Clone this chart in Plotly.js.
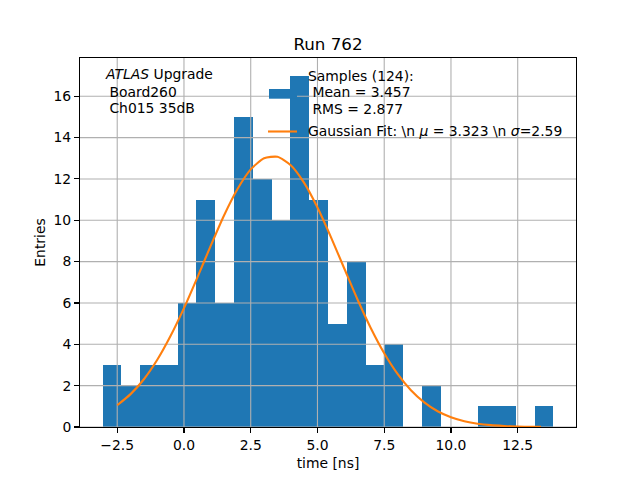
<!DOCTYPE html>
<html><head><meta charset="utf-8">
<script src="https://cdn.plot.ly/plotly-3.0.1.min.js"></script>
<style>body{margin:0;background:#fff;} #chart{width:640px;height:480px;}</style>
</head><body><div id="chart"></div>
<script>
// Histogram bin edges (ns) and entries per bin
const binEdges = [-3.050, -2.346, -1.643, -0.939, -0.235, 0.469, 1.172, 1.876, 2.580, 3.283,
                  3.987, 4.691, 5.394, 6.098, 6.802, 7.506, 8.209, 8.913, 9.617, 10.320,
                  11.024, 11.728, 12.431, 13.135, 13.839];
const counts = [3, 2, 3, 3, 6, 11, 6, 15, 12, 10, 17, 11, 5, 8, 3, 4, 0, 2, 0, 0, 1, 1, 0, 1];

// Gaussian fit curve
const fitX = [-2.5, -2.0, -1.5, -1.0, -0.5, 0.0, 0.5, 1.0, 1.5, 2.0, 2.5, 3.0, 3.5, 4.0, 4.5,
              5.0, 5.5, 6.0, 6.5, 7.0, 7.5, 8.0, 8.5, 9.0, 9.5, 10.0, 10.5, 11.0, 11.5, 12.0,
              12.5, 13.0, 13.37];
const fitY = [1.05, 1.59, 2.31, 3.25, 4.41, 5.75, 7.23, 8.76, 10.23, 11.50, 12.46, 13.00, 13.07,
              12.66, 11.81, 10.62, 9.20, 7.68, 6.17, 4.78, 3.57, 2.57, 1.78, 1.19, 0.76, 0.47,
              0.28, 0.16, 0.09, 0.05, 0.02, 0.01, 0.006];

const xTicks = [-2.5, 0, 2.5, 5, 7.5, 10, 12.5];
const xTickLabels = ['\u22122.5', '0.0', '2.5', '5.0', '7.5', '10.0', '12.5'];
const yTicks = [0, 2, 4, 6, 8, 10, 12, 14, 16];
const yTickLabels = ['0', '2', '4', '6', '8', '10', '12', '14', '16'];

const titleText = 'Run 762';
const xTitle = 'time [ns]';
const yTitle = 'Entries';
const infoLines = ['<i>ATLAS</i> Upgrade', '\u00a0Board260', '\u00a0Ch015 35dB'];
const sampleLines = ['Samples (124):', '\u00a0Mean = 3.457', '\u00a0RMS = 2.877'];
const fitLabel = 'Gaussian Fit: \\n <i>\u03bc</i> = 3.323 \\n <i>\u03c3</i>=2.59';

// ---- layout config ----
const W = 640, H = 480;
const M = {l: 80, r: 64, t: 58, b: 53};
const pw = W - M.l - M.r, ph = H - M.t - M.b;
const xRange = [-3.894, 14.683];
const yRange = [0, 17.85];
const FS = 13.9;
const FONT = 'DejaVu Sans, Liberation Sans, sans-serif';
const BLUE = '#1f77b4', ORANGE = '#ff7f0e', GRID = '#b0b0b0';
const px = v => (v - M.l) / pw;
const py = v => (H - M.b - v) / ph;

// bars
const centers = counts.map((c, i) => (binEdges[i] + binEdges[i + 1]) / 2);
const widths = counts.map((c, i) => binEdges[i + 1] - binEdges[i]);

// grid lines as a trace so they sit above the bars but below the fit line
const gx = [], gy = [];
xTicks.forEach(t => { gx.push(t, t, null); gy.push(yRange[0], yRange[1], null); });
yTicks.forEach(t => { gx.push(xRange[0], xRange[1], null); gy.push(t, t, null); });

const traces = [
  {type: 'bar', x: centers, y: counts, width: widths, marker: {color: BLUE, line: {width: 0}},
   hoverinfo: 'x+y', showlegend: false},
  {type: 'scatter', mode: 'lines', x: gx, y: gy, line: {color: GRID, width: 1.1},
   hoverinfo: 'skip', showlegend: false, connectgaps: false},
  {type: 'scatter', mode: 'lines', x: fitX, y: fitY, line: {color: ORANGE, width: 2.1, shape: 'spline', smoothing: 0.6},
   showlegend: false}
];

const ann = [];
const addText = (text, x, y) => ann.push({text, xref: 'paper', yref: 'paper', x: px(x), y: py(y),
  xanchor: 'left', yanchor: 'middle', showarrow: false, font: {size: FS, color: '#000', family: FONT}, borderpad: 0});
addText(infoLines[0], 104, 74);
addText(infoLines[1], 104, 91.5);
addText(infoLines[2], 104, 108);
addText(sampleLines[0], 307, 76);
addText(sampleLines[1], 307, 92);
addText(sampleLines[2], 307, 109);
addText(fitLabel, 307, 131);

const shapes = [
  {type: 'rect', xref: 'paper', yref: 'paper', x0: px(269), x1: px(297), y0: py(98.7), y1: py(89),
   fillcolor: BLUE, line: {width: 0}, layer: 'above'},
  {type: 'line', xref: 'paper', yref: 'paper', x0: px(268), x1: px(297), y0: py(131.5), y1: py(131.5),
   line: {color: ORANGE, width: 2.1}, layer: 'above'}
];

const axisCommon = {
  showgrid: false, zeroline: false, showline: true, mirror: true, linecolor: '#000', linewidth: 1.1,
  ticks: 'outside', ticklen: 4.9, tickwidth: 1.1, tickcolor: '#000',
  tickfont: {size: FS, color: '#000', family: FONT}, fixedrange: true
};

const layout = {
  width: W, height: H, margin: M, paper_bgcolor: '#fff', plot_bgcolor: '#fff',
  font: {family: FONT, size: FS, color: '#000'},
  title: {text: titleText, font: {size: 16.7, color: '#000', family: FONT}, x: 0.5, xref: 'paper', xanchor: 'center',
          y: 1 - 44 / H, yref: 'container', yanchor: 'middle'},
  xaxis: Object.assign({}, axisCommon, {range: xRange, tickmode: 'array', tickvals: xTicks, ticktext: xTickLabels,
          title: {text: xTitle, font: {size: FS, color: '#000', family: FONT}, standoff: 6}}),
  yaxis: Object.assign({}, axisCommon, {range: yRange, tickmode: 'array', tickvals: yTicks, ticktext: yTickLabels,
          title: {text: yTitle, font: {size: FS, color: '#000', family: FONT}, standoff: 4}}),
  bargap: 0, showlegend: false, annotations: ann, shapes: shapes
};

Plotly.newPlot('chart', traces, layout, {staticPlot: true, displayModeBar: false});
</script>
</body></html>
